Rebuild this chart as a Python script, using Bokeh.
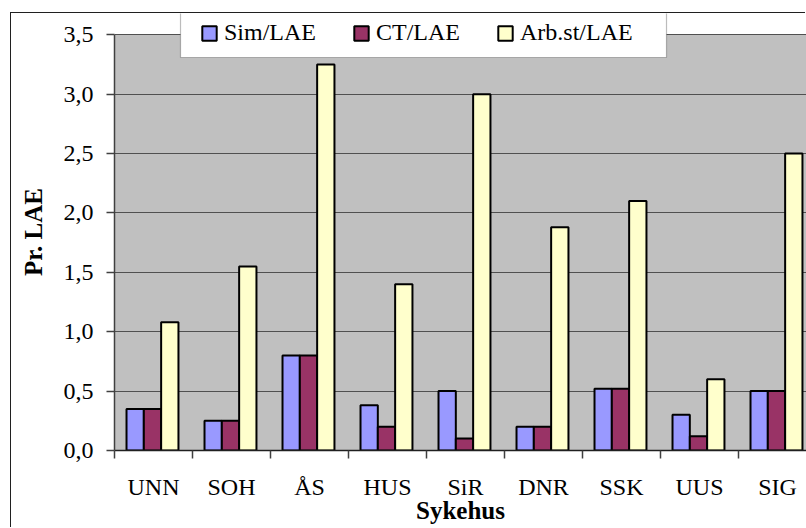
from bokeh.plotting import figure
from bokeh.models import (Range1d, FixedTicker, Legend, LegendItem, BoxAnnotation,
                          ColumnDataSource)
from bokeh.transform import dodge
from bokeh.embed import file_html
from bokeh.resources import INLINE

hospitals = ["UNN", "SOH", "ÅS", "HUS", "SiR", "DNR", "SSK", "UUS", "SIG"]
sim_lae = [0.35, 0.25, 0.80, 0.38, 0.50, 0.20, 0.52, 0.30, 0.50]
ct_lae = [0.35, 0.25, 0.80, 0.20, 0.10, 0.20, 0.52, 0.12, 0.50]
arb_lae = [1.08, 1.55, 3.25, 1.40, 3.00, 1.88, 2.10, 0.60, 2.50]
series_names = ["Sim/LAE", "CT/LAE", "Arb.st/LAE"]
y_tick_values = [0.0, 0.5, 1.0, 1.5, 2.0, 2.5, 3.0, 3.5]
y_tick_labels = ["0,0", "0,5", "1,0", "1,5", "2,0", "2,5", "3,0", "3,5"]
y_max = 3.5

colors = ["#9999ff", "#993366", "#ffffcc"]
FONT = "Liberation Serif"

# canvas placed at page (11, 13); outer chart border drawn just outside it
OX, OY = 11, 13
W, H = 806 - OX, 528 - OY
FL, FB = 114 - OX, 78             # frame left / bottom borders
frame_w = W - FL
frame_h = H - FB
px_per_unit = (450 - 34.3) / y_max
cat_px = 78.0
n = len(hospitals)
centers = [i + 0.487 for i in range(n)]
source = ColumnDataSource(dict(x=centers, sim=sim_lae, ct=ct_lae, arb=arb_lae))

p = figure(width=W, height=H, output_backend="svg", toolbar_location=None,
           x_range=Range1d(0, frame_w / cat_px), y_range=Range1d(0, frame_h / px_per_unit),
           min_border_left=FL, min_border_right=0, min_border_top=0,
           min_border_bottom=FB, background_fill_color="white",
           border_fill_color="white", outline_line_color=None)
p.margin = (OY, 0, 0, OX)
p.styles = {"box-shadow": "-1px -1px 0px 0px #202020"}

# grey plot area
p.quad(left=[0], right=[n + 1], bottom=[0], top=[y_max], fill_color="#c0c0c0",
       line_color=None, level="image")

bw = 0.222
renderers = []
for key, off, col in zip(["sim", "ct", "arb"], [-bw, 0.0, bw], colors):
    r = p.vbar(x=dodge("x", off, range=p.x_range), top=key, width=bw, source=source,
               fill_color=col, line_color="black", line_width=2)
    renderers.append(r)

# x axis
xa = p.xaxis[0]
xa.ticker = FixedTicker(ticks=[i + 0.5 for i in range(n)], minor_ticks=list(range(n + 1)))
xa.major_label_overrides = {i + 0.5: h for i, h in enumerate(hospitals)}
xa.major_tick_line_color = None
xa.major_tick_out = 0
xa.major_tick_in = 0
xa.minor_tick_in = 0
xa.minor_tick_out = 8
xa.minor_tick_line_color = "#404040"
xa.minor_tick_line_width = 1.5
xa.axis_line_color = "#202020"
xa.axis_line_width = 1.5
xa.major_label_text_font = FONT
xa.major_label_text_font_size = "24px"
xa.major_label_text_color = "black"
xa.major_label_standoff = 15
xa.axis_label = "Sykehus"
xa.axis_label_text_font = FONT
xa.axis_label_text_font_size = "25px"
xa.axis_label_text_font_style = "bold"
xa.axis_label_text_color = "black"
xa.axis_label_standoff = -6

# y axis
ya = p.yaxis[0]
ya.ticker = FixedTicker(ticks=y_tick_values)
ya.bounds = (0, y_max)
ya.major_label_overrides = {v: s for v, s in zip(y_tick_values, y_tick_labels)}
ya.major_tick_out = 8
ya.major_tick_in = 0
ya.major_tick_line_color = "#404040"
ya.major_tick_line_width = 1.5
ya.minor_tick_line_color = None
ya.axis_line_color = "#404040"
ya.axis_line_width = 1.5
ya.major_label_text_font = FONT
ya.major_label_text_font_size = "24px"
ya.major_label_text_color = "black"
ya.major_label_standoff = 13
ya.axis_label = "Pr. LAE"
ya.axis_label_text_font = FONT
ya.axis_label_text_font_size = "25px"
ya.axis_label_text_font_style = "bold"
ya.axis_label_text_color = "black"
ya.axis_label_standoff = 14

p.xgrid.grid_line_color = None
p.ygrid.grid_line_color = "#505050"
p.ygrid.grid_line_width = 1.2

# legend box (page coords -> frame-relative screen units)
def sbox(l, r, t, b, **kw):
    return BoxAnnotation(left=l - 114, right=r - 114,
                         top=frame_h - (t - OY), bottom=frame_h - (b - OY),
                         left_units="screen", right_units="screen",
                         top_units="screen", bottom_units="screen", **kw)

p.add_layout(sbox(180, 666, 12, 57, fill_color="white", fill_alpha=1,
                  line_color="#202020", line_width=1.2))

legend = Legend(items=[LegendItem(label=nm, renderers=[r]) for nm, r in zip(series_names, renderers)],
                orientation="horizontal", location=(86, frame_h - 33),
                glyph_width=18, glyph_height=18, label_standoff=6, spacing=36,
                padding=0, margin=0,
                label_text_font=FONT, label_text_font_size="24px",
                label_text_color="black", border_line_color=None,
                background_fill_alpha=0)
p.add_layout(legend)

open("out.html", "w").write(file_html(p, INLINE))
